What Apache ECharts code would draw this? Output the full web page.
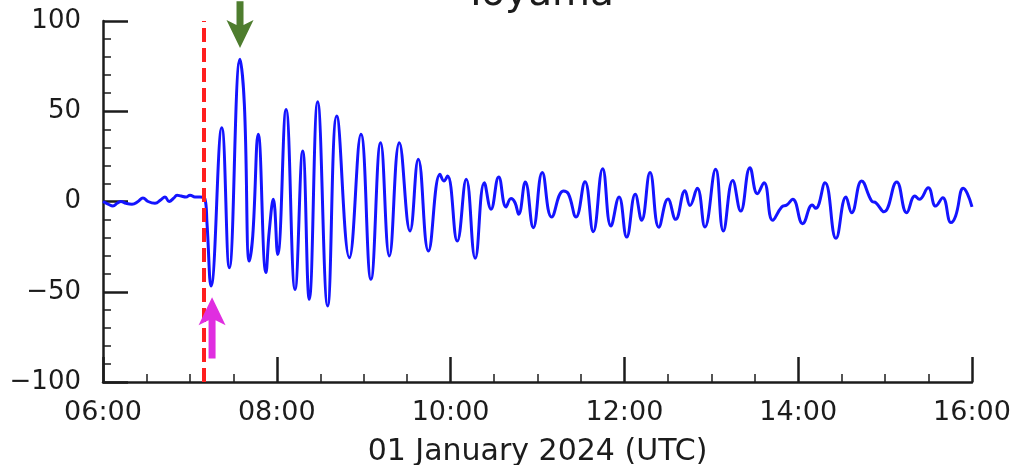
<!DOCTYPE html>
<html>
<head>
<meta charset="utf-8">
<script src="https://cdn.jsdelivr.net/npm/echarts@6/dist/echarts.min.js"></script>
<style>
html,body{margin:0;padding:0;background:#fff;}
#chart{width:1015px;height:465px;}
</style>
</head>
<body>
<div id="chart"></div>
<script>
// time in minutes since 00:00 UTC, 01 January 2024
const timesMin = [
  360.0, 363.5, 366.9, 369.7, 372.4, 375.9, 380.0, 384.2, 387.6, 391.1,
  395.9, 400.0, 402.8, 405.6, 409.0, 411.1, 413.9, 417.3, 420.1, 423.5,
  427.0, 430.4, 431.8, 434.6, 442.0, 447.2, 454.6, 457.6, 461.0, 463.4,
  467.2, 472.5, 474.8, 477.6, 480.6, 486.4, 492.6, 497.9, 502.4, 508.2,
  515.1, 521.4, 530.1, 538.1, 545.0, 551.7, 557.7, 564.6, 572.0, 577.7,
  584.7, 592.7, 595.4, 597.9, 604.6, 610.8, 617.0, 623.3, 627.9, 633.2,
  638.3, 641.7, 644.5, 647.0, 651.6, 657.1, 663.3, 669.8, 677.8, 681.3,
  686.6, 692.8, 698.5, 705.0, 710.7, 716.3, 721.6, 727.5, 731.9, 737.7,
  743.8, 750.1, 755.4, 761.8, 765.3, 770.3, 775.6, 783.0, 788.3, 794.8,
  800.3, 806.7, 811.8, 816.4, 822.4, 828.6, 832.1, 836.2, 843.1, 849.7,
  852.1, 858.5, 866.1, 873.0, 876.9, 883.8, 890.7, 893.7, 899.2, 908.0,
  914.9, 920.6, 923.6, 929.8, 934.9, 939.8, 945.5, 948.7, 954.0, 956.8,
  960.0
];
// sea level anomaly (cm)
const levels = [
  0, -1.4, -2.5, -1, 0, -1, -1.5, 0, 2, 0,
  -1, 1, 2.5, 0, 2, 3.5, 3, 2.5, 3.5, 2.5,
  2.5, 1.5, -12, -46.8, 40.9, -36.7, 78.8, 53.8, -33, -19,
  37.2, -39.4, -16.3, 1.2, -29.3, 51, -48.7, 28, -54.2, 55.3,
  -57.9, 47.4, -31.1, 37.2, -43.1, 32.6, -30.2, 32.6, -16.3, 23.4,
  -27.4, 15.1, 11.4, 14.1, -21.9, 12.3, -31.5, 10.4, -4.3, 13.6,
  -3, 1.6, -0.7, -7.1, 10.8, -14.5, 16, -8.6, 5.8, 4.3,
  -8.6, 11, -16.7, 18.2, -13.6, 2.5, -19.7, 4, -10.4, 16,
  -14.2, 1.4, -9.9, 6, -2.2, 7.3, -14.1, 17.8, -16.3, 11.7,
  -5.3, 18.7, 4.3, 10.4, -10.4, -3, -1.9, 1.2, -12.3, -1.9,
  -3.8, 10.4, -20.4, 2.5, -6.2, 11.4, 0.3, -0.7, -5.7, 10.8,
  -6.2, 3, 1.2, 7.6, -2.5, 2.1, -11.7, -8, 7.3, 4.3,
  -3
];
const xTicks = [360, 480, 600, 720, 840, 960];
const yTicks = [-100, -50, 0, 50, 100];
const arrivalMin = 429.7;            // red dashed line
const arrowTimes = [454.6, 435.3];   // green (max), magenta (first trough)
const arrowTips  = [85, -53];
const arrowTails = [111, -87];
const arrowColors = ['#4e7d2e', '#e02ee0'];
const titleText = 'Toyama';
const xName = '01 January 2024 (UTC)';

const seriesData = timesMin.map((t, i) => [t, levels[i]]);
const arrowData = arrowTimes.map((t, i) => [t, arrowTips[i], arrowTails[i]]);

function fmtTime(v) {
  const h = Math.floor(v / 60), m = Math.round(v % 60);
  return String(h).padStart(2, '0') + ':' + String(m).padStart(2, '0');
}

const font = 'DejaVu Sans';
const ink = '#1c1c1c';
const chart = echarts.init(document.getElementById('chart'), null, {renderer: 'canvas'});
chart.setOption({
  animation: false,
  backgroundColor: '#ffffff',
  title: {
    text: titleText,
    left: 534, top: -30, textAlign: 'center',
    textStyle: {fontFamily: font, fontSize: 39, fontWeight: 'normal', color: ink}
  },
  grid: {left: 103, right: 43, top: 21, bottom: 83, containLabel: false, outerBoundsMode: 'none'},
  xAxis: {
    type: 'value', min: xTicks[0], max: xTicks[xTicks.length - 1], interval: 120,
    name: xName, nameLocation: 'middle', nameGap: 55,
    nameTextStyle: {fontFamily: font, fontSize: 30, color: ink},
    axisLine: {show: true, onZero: false, lineStyle: {color: ink, width: 2.5}},
    axisTick: {show: true, inside: true, length: 25, lineStyle: {color: ink, width: 2.5}},
    minorTick: {show: true, splitNumber: 4, length: 8, lineStyle: {color: ink, width: 1.5}},
    splitLine: {show: false},
    axisLabel: {fontFamily: font, fontSize: 27, color: ink, margin: 17, formatter: fmtTime}
  },
  yAxis: {
    type: 'value', min: yTicks[0], max: yTicks[yTicks.length - 1], interval: 50,
    axisLine: {show: true, onZero: false, lineStyle: {color: ink, width: 2.5}},
    axisTick: {show: true, inside: true, length: 25, lineStyle: {color: ink, width: 2.5}},
    minorTick: {show: true, splitNumber: 5, length: 8, lineStyle: {color: ink, width: 1.5}},
    splitLine: {show: false},
    axisLabel: {fontFamily: font, fontSize: 26, color: ink, margin: 22,
      formatter: v => v < 0 ? '\u2212' + Math.abs(v) : String(v)}
  },
  series: [
    {
      type: 'line', data: seriesData, showSymbol: false, smooth: 0.45,
      lineStyle: {color: '#1414ff', width: 3}, z: 3,
      markLine: {
        silent: true, symbol: ['none', 'none'], label: {show: false},
        lineStyle: {color: '#ff1e1e', width: 4, type: [14, 6]},
        data: [{xAxis: arrivalMin}]
      }
    },
    {
      type: 'custom', data: arrowData, clip: false, z: 5,
      renderItem: function (params, api) {
        const idx = params.dataIndex;
        const tip = api.coord([api.value(0), api.value(1)]);
        const tail = api.coord([api.value(0), api.value(2)]);
        const dir = tail[1] > tip[1] ? 1 : -1;
        const headLen = 25, headHalf = 13.5, shaftHalf = 3.5;
        const x = tip[0];
        const baseY = tip[1] + dir * headLen;
        const pts = [
          [x, tip[1]],
          [x + headHalf, baseY + dir * 3],
          [x + shaftHalf, baseY - dir * 2],
          [x + shaftHalf, tail[1]],
          [x - shaftHalf, tail[1]],
          [x - shaftHalf, baseY - dir * 2],
          [x - headHalf, baseY + dir * 3]
        ];
        return {type: 'polygon', shape: {points: pts}, style: {fill: arrowColors[idx]}};
      }
    }
  ]
});
</script>
</body>
</html>
